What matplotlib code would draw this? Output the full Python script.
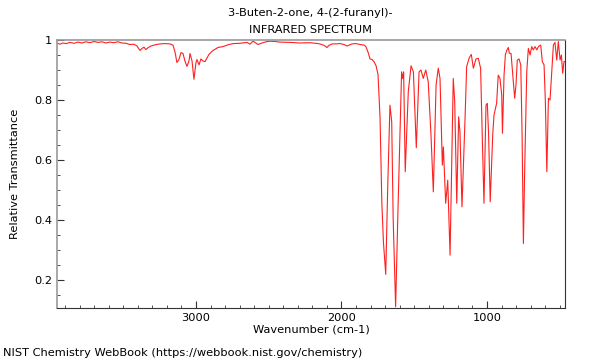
import matplotlib
matplotlib.use("Agg")
import matplotlib.pyplot as plt
from matplotlib.ticker import MultipleLocator

wavenumber = [3955, 3935, 3914, 3893, 3866, 3838, 3811, 3784, 3756, 3729, 3701, 3674, 3646, 3619,
              3591, 3564, 3536, 3509, 3481, 3454, 3426, 3405, 3385, 3371, 3357, 3344, 3330, 3309,
              3282, 3247, 3213, 3179, 3158, 3144, 3131, 3117, 3103, 3089, 3076, 3062, 3048, 3041,
              3027, 3014, 3000, 2993, 2979, 2966, 2952, 2938, 2924, 2911, 2883, 2849, 2814, 2780,
              2746, 2698, 2649, 2629, 2608, 2588, 2574, 2546, 2519, 2491, 2457, 2423, 2354, 2285,
              2216, 2161, 2134, 2113, 2100, 2086, 2065, 2038, 2010, 1983, 1962, 1948, 1928, 1900,
              1873, 1845, 1832, 1818, 1804, 1790, 1777, 1763, 1749, 1735, 1723, 1712, 1696, 1682,
              1667, 1655, 1645, 1628, 1614, 1598, 1587, 1580, 1573, 1562, 1541, 1522, 1506, 1486,
              1467, 1454, 1438, 1421, 1404, 1385, 1369, 1350, 1335, 1323, 1307, 1300, 1284, 1270,
              1254, 1243, 1232, 1222, 1208, 1195, 1186, 1172, 1151, 1140, 1122, 1108, 1094, 1076,
              1060, 1044, 1033, 1021, 1007, 998, 989, 978, 961, 952, 934, 923, 911, 899, 894, 883,
              874, 865, 854, 847, 835, 823, 810, 801, 792, 780, 768, 759, 750, 741, 727, 716, 704,
              693, 682, 670, 658, 647, 631, 620, 608, 599, 589, 578, 567, 555, 544, 533, 521, 510,
              498, 489, 480, 471, 464]
transmittance = [0.990, 0.986, 0.990, 0.988, 0.992, 0.989, 0.993, 0.990, 0.994, 0.991, 0.995, 0.992,
                 0.994, 0.990, 0.993, 0.991, 0.994, 0.990, 0.989, 0.985, 0.986, 0.980, 0.965, 0.972,
                 0.976, 0.968, 0.974, 0.980, 0.984, 0.987, 0.988, 0.987, 0.983, 0.960, 0.925, 0.935,
                 0.958, 0.955, 0.930, 0.912, 0.930, 0.955, 0.930, 0.869, 0.925, 0.935, 0.917, 0.937,
                 0.930, 0.928, 0.940, 0.952, 0.965, 0.975, 0.978, 0.984, 0.988, 0.989, 0.992, 0.986,
                 0.996, 0.990, 0.985, 0.990, 0.994, 0.996, 0.995, 0.993, 0.992, 0.990, 0.991, 0.988,
                 0.985, 0.980, 0.975, 0.982, 0.987, 0.987, 0.988, 0.985, 0.980, 0.983, 0.987, 0.988,
                 0.985, 0.983, 0.978, 0.960, 0.937, 0.935, 0.928, 0.915, 0.885, 0.740, 0.461, 0.328,
                 0.219, 0.517, 0.783, 0.728, 0.406, 0.111, 0.394, 0.683, 0.894, 0.872, 0.894, 0.561,
                 0.828, 0.914, 0.894, 0.641, 0.894, 0.900, 0.872, 0.900, 0.861, 0.683, 0.494, 0.850,
                 0.906, 0.872, 0.583, 0.644, 0.456, 0.533, 0.283, 0.572, 0.872, 0.794, 0.456, 0.744,
                 0.694, 0.444, 0.739, 0.911, 0.941, 0.952, 0.906, 0.937, 0.939, 0.906, 0.683, 0.456,
                 0.783, 0.789, 0.683, 0.461, 0.683, 0.750, 0.789, 0.883, 0.872, 0.817, 0.689, 0.883,
                 0.950, 0.965, 0.975, 0.956, 0.955, 0.883, 0.806, 0.850, 0.933, 0.937, 0.917, 0.683,
                 0.322, 0.572, 0.894, 0.972, 0.950, 0.978, 0.967, 0.978, 0.967, 0.978, 0.983, 0.928,
                 0.917, 0.794, 0.561, 0.806, 0.800, 0.894, 0.983, 0.992, 0.933, 0.995, 0.933, 0.950,
                 0.889, 0.928, 0.928]

y_ticks = [0.2, 0.4, 0.6, 0.8, 1.0]
y_labels = ['0.2', '0.4', '0.6', '0.8', '1']
x_ticks = [1000, 2000, 3000]

fs = 8.2

fig = plt.figure(figsize=(6, 3.6), dpi=100)
ax = fig.add_axes([0.095, 0.1444, 0.8467, 0.7445])
ax.plot(wavenumber, transmittance, color='#ff2020', lw=0.8)

ax.set_xlim(3955, 464)
ax.set_ylim(0.107, 1.0)
ax.set_xticks(x_ticks)
ax.xaxis.set_minor_locator(MultipleLocator(100))
ax.set_yticks(y_ticks, y_labels)
ax.yaxis.set_minor_locator(MultipleLocator(0.05))
ax.tick_params(which='both', direction='in', labelsize=fs, colors='#333333')
ax.tick_params(which='major', length=5)
ax.tick_params(which='minor', length=2.5)
ax.tick_params(axis='both', labelcolor='black')

for side in ['top', 'left']:
    ax.spines[side].set_color('#999999')
    ax.spines[side].set_linewidth(1.2)
for side in ['bottom', 'right']:
    ax.spines[side].set_color('#333333')

ax.set_xlabel("Wavenumber (cm-1)", fontsize=fs, labelpad=1)
ax.set_ylabel("Relative Transmittance", fontsize=fs, labelpad=10)
fig.text(0.518, 1 - 13 / 360, "3-Buten-2-one, 4-(2-furanyl)-", fontsize=fs, ha='center', va='center')
fig.text(0.518, 1 - 30 / 360, "INFRARED SPECTRUM", fontsize=fs, ha='center', va='center')
fig.text(0.005, 1 - 353 / 360, "NIST Chemistry WebBook (https://webbook.nist.gov/chemistry)",
         fontsize=fs, va='center')

fig.savefig("out.png", dpi=100)
